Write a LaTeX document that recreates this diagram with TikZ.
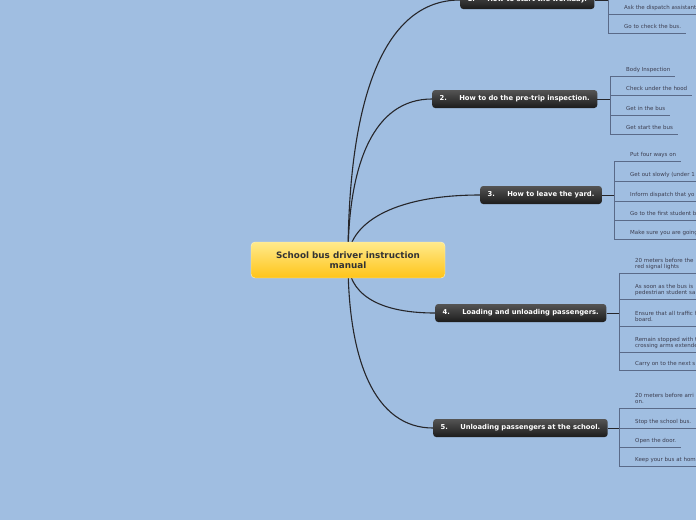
\documentclass[tikz,border=0pt]{standalone}
\usepackage{fontspec}
\setmainfont{DejaVu Sans}
\usetikzlibrary{positioning}
\pgfdeclarelayer{background}
\pgfsetlayers{background,main}
\definecolor{bgblue}{RGB}{160,190,225}
\definecolor{rootlight}{RGB}{255,234,140}
\definecolor{rootdark}{RGB}{255,196,24}
\definecolor{topiclight}{RGB}{84,84,84}
\definecolor{topicdark}{RGB}{28,28,28}
\definecolor{leaftext}{RGB}{60,62,80}
\definecolor{leafline}{RGB}{90,106,136}
\definecolor{branchline}{RGB}{38,38,42}

\begin{document}
\begin{tikzpicture}[
    x=1pt, y=-1pt,
    root/.style={draw=rootlight!50!white, top color=rootlight, bottom color=rootdark, rounded corners=4pt, minimum width=194pt, minimum height=36pt, align=center, font=\fontsize{8.8}{10.5}\selectfont\bfseries, text=black!80},
    topic/.style={top color=topiclight, bottom color=topicdark, rounded corners=3pt, minimum height=18pt, inner xsep=7.5pt, anchor=west, font=\fontsize{6.8}{8}\selectfont\bfseries, text=white},
    leaf/.style={anchor=south west, inner xsep=0pt, inner ysep=0pt, text depth=4pt, align=left, font=\fontsize{5.5}{6}\selectfont, text=leaftext},
    branch/.style={draw=branchline, line width=1.1pt},
    link/.style={draw=branchline, line width=0.9pt},
    bracket/.style={draw=leafline, line width=0.7pt}
]
\useasboundingbox (0,0) rectangle (696,520);
\begin{pgfonlayer}{background}
\fill[bgblue] (0,0) rectangle (696,520);
\end{pgfonlayer}
\clip (0,0) rectangle (696,520);

% Central topic
\node[root] (root) at (348,260) {School bus driver instruction\\manual};

% Main topics
\node[topic] (t1) at (460,0) {1.\hspace{1.8em}How to start the workday.};
\node[topic] (t2) at (432,99) {2.\hspace{1.8em}How to do the pre-trip inspection.};
\node[topic] (t3) at (480,195) {3.\hspace{1.8em}How to leave the yard.};
\node[topic] (t4) at (435,313) {4.\hspace{1.8em}Loading and unloading passengers.};
\node[topic] (t5) at (433,428) {5.\hspace{1.8em}Unloading passengers at the school.};

% Branches
\begin{pgfonlayer}{background}
\clip (0,0) rectangle (696,520);
\draw[branch] (root.center) .. controls +(0,-157) and +(-78,0) .. (t1.west);
\draw[branch] (root.center) .. controls +(0,-97) and +(-58,0) .. (t2.west);
\draw[branch] (root.center) .. controls +(0,-35) and +(-90,0) .. (t3.west);
\draw[branch] (root.center) .. controls +(0,32) and +(-60,0) .. (t4.west);
\draw[branch] (root.center) .. controls +(0,101) and +(-58,0) .. (t5.west);
\end{pgfonlayer}

% Topic 1
\coordinate (b1) at (608,0);
\node[leaf] (l11) at (624,14) {Ask the dispatch assistant};
\node[leaf] (l12) at (624,33) {Go to check the bus.};
\draw[link] (t1.east) -- (b1);
\draw[bracket] (b1) ++(0,-30) -- (b1 |- l12.south);
\foreach \l in {l11,l12}
  \draw[bracket] (b1 |- \l.south) -- ([xshift=5pt]\l.south east);

% Topic 2
\coordinate (b2) at (610,99);
\node[leaf] (l21) at (626,76) {Body Inspection};
\node[leaf] (l22) at (626,95) {Check under the hood};
\node[leaf] (l23) at (626,115) {Get in the bus};
\node[leaf] (l24) at (626,134) {Get start the bus};
\draw[link] (t2.east) -- (b2);
\draw[bracket] (b2 |- l21.south) -- (b2 |- l24.south);
\foreach \l in {l21,l22,l23,l24}
  \draw[bracket] (b2 |- \l.south) -- ([xshift=5pt]\l.south east);

% Topic 3
\coordinate (b3) at (614,195);
\node[leaf] (l31) at (630,161) {Put four ways on};
\node[leaf] (l32) at (630,181) {Get out slowly (under 1};
\node[leaf] (l33) at (630,201) {Inform dispatch that yo};
\node[leaf] (l34) at (630,220) {Go to the first student b};
\node[leaf] (l35) at (630,239) {Make sure you are going};
\draw[link] (t3.east) -- (b3);
\draw[bracket] (b3 |- l31.south) -- (b3 |- l35.south);
\foreach \l in {l31,l32,l33,l34,l35}
  \draw[bracket] (b3 |- \l.south) -- ([xshift=5pt]\l.south east);

% Topic 4
\coordinate (b4) at (619,313);
\node[leaf] (l41) at (635,273) {20 meters before the\\red signal lights};
\node[leaf] (l42) at (635,299) {As soon as the bus is\\pedestrian student sa};
\node[leaf] (l43) at (635,326) {Ensure that all traffic h\\board.};
\node[leaf] (l44) at (635,352) {Remain stopped with t\\crossing arms extende};
\node[leaf] (l45) at (635,370) {Carry on to the next s};
\draw[link] (t4.east) -- (b4);
\draw[bracket] (b4 |- l41.south) -- (b4 |- l45.south);
\foreach \l in {l41,l42,l43,l44,l45}
  \draw[bracket] (b4 |- \l.south) -- ([xshift=5pt]\l.south east);

% Topic 5
\coordinate (b5) at (619,428);
\node[leaf] (l51) at (635,408) {20 meters before arri\\on.};
\node[leaf] (l52) at (635,428) {Stop the school bus.};
\node[leaf] (l53) at (635,447) {Open the door.};
\node[leaf] (l54) at (635,466) {Keep your bus at hom};
\draw[link] (t5.east) -- (b5);
\draw[bracket] (b5 |- l51.south) -- (b5 |- l54.south);
\foreach \l in {l51,l52,l53,l54}
  \draw[bracket] (b5 |- \l.south) -- ([xshift=5pt]\l.south east);

\end{tikzpicture}
\end{document}
